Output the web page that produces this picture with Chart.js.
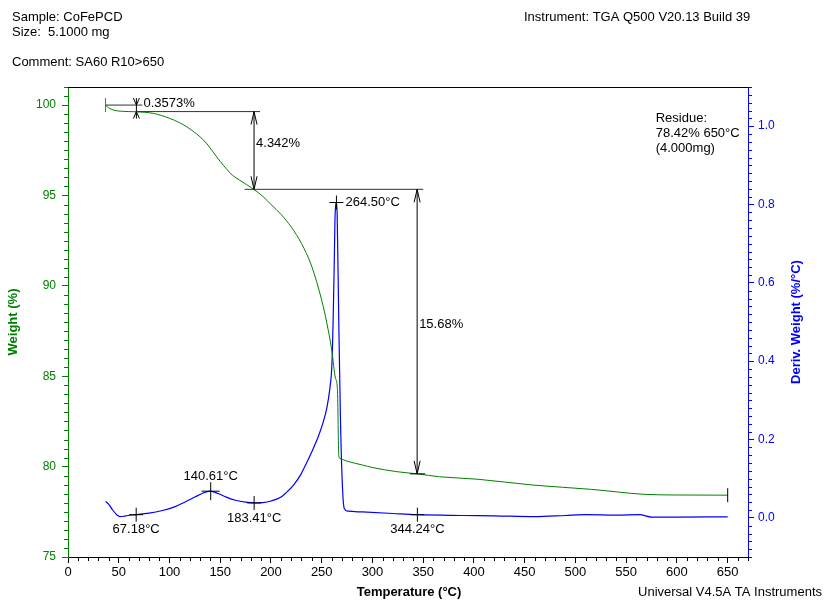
<!DOCTYPE html>
<html>
<head>
<meta charset="utf-8">
<script src="https://cdn.jsdelivr.net/npm/chart.js@4.4.0/dist/chart.umd.min.js"></script>
<style>
  html, body { margin: 0; padding: 0; background: #fff; }
  canvas { display: block; }
</style>
</head>
<body>
<canvas id="tga" width="824" height="600"></canvas>
<script>
// weight curve (left axis)
const TEMP_W = [37, 40, 45, 50, 60, 67, 84, 100, 110, 117, 130, 137, 143, 150, 156, 162, 169, 176, 183, 192, 200, 210, 220, 230, 240, 250, 255, 260, 263.5, 265.5, 266.8, 268, 275, 290, 300, 324, 344, 366, 404, 458, 516, 567, 600, 650];
const WEIGHT = [100.0, 99.85, 99.72, 99.67, 99.64, 99.63, 99.54, 99.27, 99.02, 98.8, 98.25, 97.85, 97.4, 96.88, 96.48, 96.12, 95.85, 95.6, 95.34, 94.95, 94.5, 93.95, 93.25, 92.35, 91.1, 89.2, 87.95, 86.4, 84.9, 84.25, 80.6, 80.45, 80.3, 80.09, 79.95, 79.72, 79.6, 79.44, 79.3, 78.98, 78.74, 78.47, 78.43, 78.42];

// derivative curve (right axis)
const TEMP_D = [37, 40, 44, 48, 51, 55, 59, 67, 80, 92, 105, 115, 125, 132, 140, 148, 156, 165, 175, 184, 192, 200, 210, 214, 222, 229, 235, 241.5, 247, 251.5, 255, 258, 260, 261.2, 262.2, 263, 263.6, 264.5, 265.2, 266.8, 268.5, 270.5, 272.2, 276, 290, 320, 344, 390, 420, 460, 490, 510, 540, 563, 575, 600, 650];
const DERIV = [0.042, 0.035, 0.02, 0.008, 0.003, 0.004, 0.006, 0.008, 0.012, 0.018, 0.028, 0.04, 0.053, 0.062, 0.068, 0.062, 0.053, 0.045, 0.04, 0.038, 0.039, 0.043, 0.053, 0.062, 0.083, 0.109, 0.14, 0.176, 0.21, 0.245, 0.28, 0.33, 0.39, 0.5, 0.63, 0.755, 0.795, 0.805, 0.775, 0.5, 0.245, 0.075, 0.024, 0.017, 0.015, 0.011, 0.008, 0.006, 0.005, 0.003, 0.006, 0.008, 0.007, 0.008, 0.002, 0.002, 0.0025];

const X_TICKS = [0, 50, 100, 150, 200, 250, 300, 350, 400, 450, 500, 550, 600, 650];
const W_TICKS = [75, 80, 85, 90, 95, 100];
const D_TICKS = [0.0, 0.2, 0.4, 0.6, 0.8, 1.0];

// weight steps: temperature, weight from, weight to, label, baseline start temp
const STEP_T = [67.4, 183.3, 344.0];
const STEP_FROM = [100.0, 99.64, 95.34];
const STEP_TO = [99.64, 95.34, 79.6];
const STEP_LABELS = ['0.3573%', '4.342%', '15.68%'];
const STEP_LINE_FROM = [37, 67.4, 174];

// derivative peaks / valleys
const PEAK_T = [67.18, 140.61, 183.41, 264.50, 344.24];
const PEAK_D = [0.008, 0.068, 0.038, 0.805, 0.008];
const PEAK_LABELS = ['67.18°C', '140.61°C', '183.41°C', '264.50°C', '344.24°C'];

const RESIDUE = ['Residue:', '78.42% 650°C', '(4.000mg)'];
const RESIDUE_T = 650;

const GREEN = '#008000';
const BLUE = '#0000ff';
const FAMILY = '"Liberation Sans", Arial, sans-serif';

function Font(size, bold) {
  return (bold ? 'bold ' : '') + size + 'px ' + FAMILY;
}

function Line(ctx, x1, y1, x2, y2) {
  ctx.beginPath();
  ctx.moveTo(x1, y1);
  ctx.lineTo(x2, y2);
  ctx.stroke();
}

// dir -1: tip points up, +1: tip points down
function Head(ctx, x, y, dir, len, half) {
  ctx.beginPath();
  ctx.moveTo(x - half, y - dir * len);
  ctx.lineTo(x, y);
  ctx.lineTo(x + half, y - dir * len);
  ctx.stroke();
}

function Cross(ctx, x, y, r) {
  Line(ctx, x - r, y, x + r, y);
  Line(ctx, x, y - r, x, y + r);
}

function MinorTicks(ctx, scale, from, to, step, skip, color, side) {
  ctx.strokeStyle = color;
  ctx.lineWidth = 1;
  for (let v = from; v <= to + 1e-9; v += step) {
    let r = Math.round(v * 1000) / 1000;
    if (Math.abs(r / skip - Math.round(r / skip)) < 1e-6) continue;
    let p = Math.round(scale.getPixelForValue(r)) + 0.5;
    if (side === 'left') Line(ctx, scale.right - 4, p, scale.right, p);
    else if (side === 'right') Line(ctx, scale.left, p, scale.left + 4, p);
    else Line(ctx, p, scale.top, p, scale.top + 4);
  }
}

const TgaOverlay = {
  id: 'tgaOverlay',
  afterDatasetsDraw(chart) {
    const ctx = chart.ctx;
    const xs = chart.scales.x, yw = chart.scales.y, yd = chart.scales.y2;
    const area = chart.chartArea;

    ctx.save();
    ctx.lineWidth = 1;

    // top frame
    ctx.strokeStyle = '#000';
    Line(ctx, area.left, area.top + 0.5, area.right, area.top + 0.5);

    // start / end marks on the weight curve
    let sx = xs.getPixelForValue(TEMP_W[0]);
    let sy = yw.getPixelForValue(WEIGHT[0]);
    ctx.strokeStyle = '#666';
    Line(ctx, sx, sy - 7, sx, sy + 7);
    let ex = xs.getPixelForValue(TEMP_W[TEMP_W.length - 1]);
    let ey = yw.getPixelForValue(WEIGHT[WEIGHT.length - 1]);
    ctx.strokeStyle = '#000';
    Line(ctx, ex, ey - 7, ex, ey + 7);

    // weight steps
    ctx.font = Font(13);
    ctx.fillStyle = '#000';
    ctx.textBaseline = 'middle';
    ctx.textAlign = 'left';
    for (let i = 0; i < STEP_T.length; ++i) {
      let x = xs.getPixelForValue(STEP_T[i]);
      let y1 = yw.getPixelForValue(STEP_FROM[i]);
      let y2 = yw.getPixelForValue(STEP_TO[i]);
      let x0 = xs.getPixelForValue(STEP_LINE_FROM[i]);

      ctx.strokeStyle = '#333';
      Line(ctx, x0, y1, x + 6, y1);
      ctx.strokeStyle = '#000';

      if (y2 - y1 < 20) {
        // short step: arrows from outside pointing in
        Line(ctx, x, y1 - 7, x, y2 + 7);
        Head(ctx, x, y1, 1, 7, 3);
        Head(ctx, x, y2, -1, 7, 3);
        ctx.fillText(STEP_LABELS[i], x + 7, y1 - 2);
      } else {
        Line(ctx, x, y1, x, y2);
        Head(ctx, x, y1, -1, 13, 3);
        Head(ctx, x, y2, 1, 13, 3);
        ctx.fillText(STEP_LABELS[i], x + 2, (y1 + y2) / 2 - 7);
      }
    }
    // closing mark at the end of the last step
    let lx = xs.getPixelForValue(STEP_T[STEP_T.length - 1]);
    let ly = yw.getPixelForValue(STEP_TO[STEP_TO.length - 1]);
    Line(ctx, lx - 7, ly, lx + 8, ly);

    // derivative markers
    for (let i = 0; i < PEAK_T.length; ++i) {
      let x = xs.getPixelForValue(PEAK_T[i]);
      let y = yd.getPixelForValue(PEAK_D[i]);
      let big = PEAK_D[i] > 0.05 && PEAK_D[i] < 0.1;
      Cross(ctx, x, y, big ? 9 : 7);
      if (PEAK_D[i] > 0.5) {
        ctx.textAlign = 'left';
        ctx.fillText(PEAK_LABELS[i], x + 9, y);
      } else if (big) {
        ctx.textAlign = 'center';
        ctx.fillText(PEAK_LABELS[i], x, y - 15);
      } else {
        ctx.textAlign = 'center';
        ctx.fillText(PEAK_LABELS[i], x, y + 15);
      }
    }

    // residue note
    ctx.textAlign = 'left';
    let rx = xs.getPixelForValue(RESIDUE_T) - 72;
    for (let i = 0; i < RESIDUE.length; ++i) {
      ctx.fillText(RESIDUE[i], rx, area.top + 31 + i * 15);
    }
    ctx.restore();
  },
  afterDraw(chart) {
    const ctx = chart.ctx;
    const xs = chart.scales.x, yw = chart.scales.y, yd = chart.scales.y2;
    ctx.save();

    MinorTicks(ctx, yw, 75, 101, 0.5, 5, GREEN, 'left');
    MinorTicks(ctx, yd, -0.1, 1.1, 0.02, 0.2, BLUE, 'right');
    MinorTicks(ctx, xs, 0, 670, 10, 50, '#000', 'bottom');

    ctx.textBaseline = 'middle';
    ctx.fillStyle = '#000';
    ctx.font = Font(13);
    ctx.textAlign = 'left';
    ctx.fillText('Sample: CoFePCD', 12, 17);
    ctx.fillText('Size:  5.1000 mg', 12, 32);
    ctx.fillText('Comment: SA60 R10>650', 12, 62);
    ctx.fillText('Instrument: TGA Q500 V20.13 Build 39', 524, 17);
    ctx.textAlign = 'right';
    ctx.fillText('Universal V4.5A TA Instruments', 822, 592);

    ctx.font = Font(13, true);
    ctx.textAlign = 'center';
    ctx.fillText('Temperature (°C)', (xs.left + xs.right) / 2 + 1, 592);

    ctx.save();
    ctx.translate(13, (yw.top + yw.bottom) / 2);
    ctx.rotate(-Math.PI / 2);
    ctx.fillStyle = GREEN;
    ctx.fillText('Weight (%)', 0, 0);
    ctx.restore();

    ctx.save();
    ctx.translate(796, (yd.top + yd.bottom) / 2);
    ctx.rotate(-Math.PI / 2);
    ctx.fillStyle = BLUE;
    ctx.fillText('Deriv. Weight (%/°C)', 0, 0);
    ctx.restore();

    ctx.restore();
  }
};

function Points(xs, ys) {
  return xs.map((x, i) => ({ x: x, y: ys[i] }));
}

new Chart(document.getElementById('tga'), {
  type: 'line',
  data: {
    datasets: [{
      data: Points(TEMP_W, WEIGHT),
      yAxisID: 'y',
      borderColor: GREEN,
      borderWidth: 1,
      pointRadius: 0,
      cubicInterpolationMode: 'monotone'
    }, {
      data: Points(TEMP_D, DERIV),
      yAxisID: 'y2',
      borderColor: BLUE,
      borderWidth: 1.2,
      pointRadius: 0,
      cubicInterpolationMode: 'monotone'
    }]
  },
  options: {
    responsive: false,
    devicePixelRatio: 1,
    animation: false,
    layout: { padding: { top: 87, left: 0, right: 0, bottom: 0 } },
    plugins: {
      legend: { display: false },
      tooltip: { enabled: false }
    },
    scales: {
      x: {
        type: 'linear',
        min: 0,
        max: 670,
        afterBuildTicks: s => { s.ticks = X_TICKS.map(v => ({ value: v })); },
        afterFit: s => { s.height = 43; },
        grid: { drawOnChartArea: false, color: '#000', tickLength: 6 },
        border: { color: '#000', width: 1 },
        ticks: { color: '#000', font: { family: FAMILY, size: 13 }, padding: 2, maxRotation: 0 }
      },
      y: {
        position: 'left',
        min: 75,
        max: 101,
        afterBuildTicks: s => { s.ticks = W_TICKS.map(v => ({ value: v })); },
        afterFit: s => { s.width = 68; },
        grid: { drawOnChartArea: false, color: GREEN, tickLength: 6 },
        border: { color: GREEN, width: 1 },
        ticks: { color: GREEN, font: { family: FAMILY, size: 12 }, padding: 6 }
      },
      y2: {
        position: 'right',
        min: -0.1,
        max: 1.1,
        afterBuildTicks: s => { s.ticks = D_TICKS.map(v => ({ value: v })); },
        afterFit: s => { s.width = 76; },
        grid: { drawOnChartArea: false, color: BLUE, tickLength: 6 },
        border: { color: BLUE, width: 1 },
        ticks: { color: BLUE, font: { family: FAMILY, size: 12 }, padding: 4, callback: v => v.toFixed(1) }
      }
    }
  },
  plugins: [TgaOverlay]
});
</script>
</body>
</html>
